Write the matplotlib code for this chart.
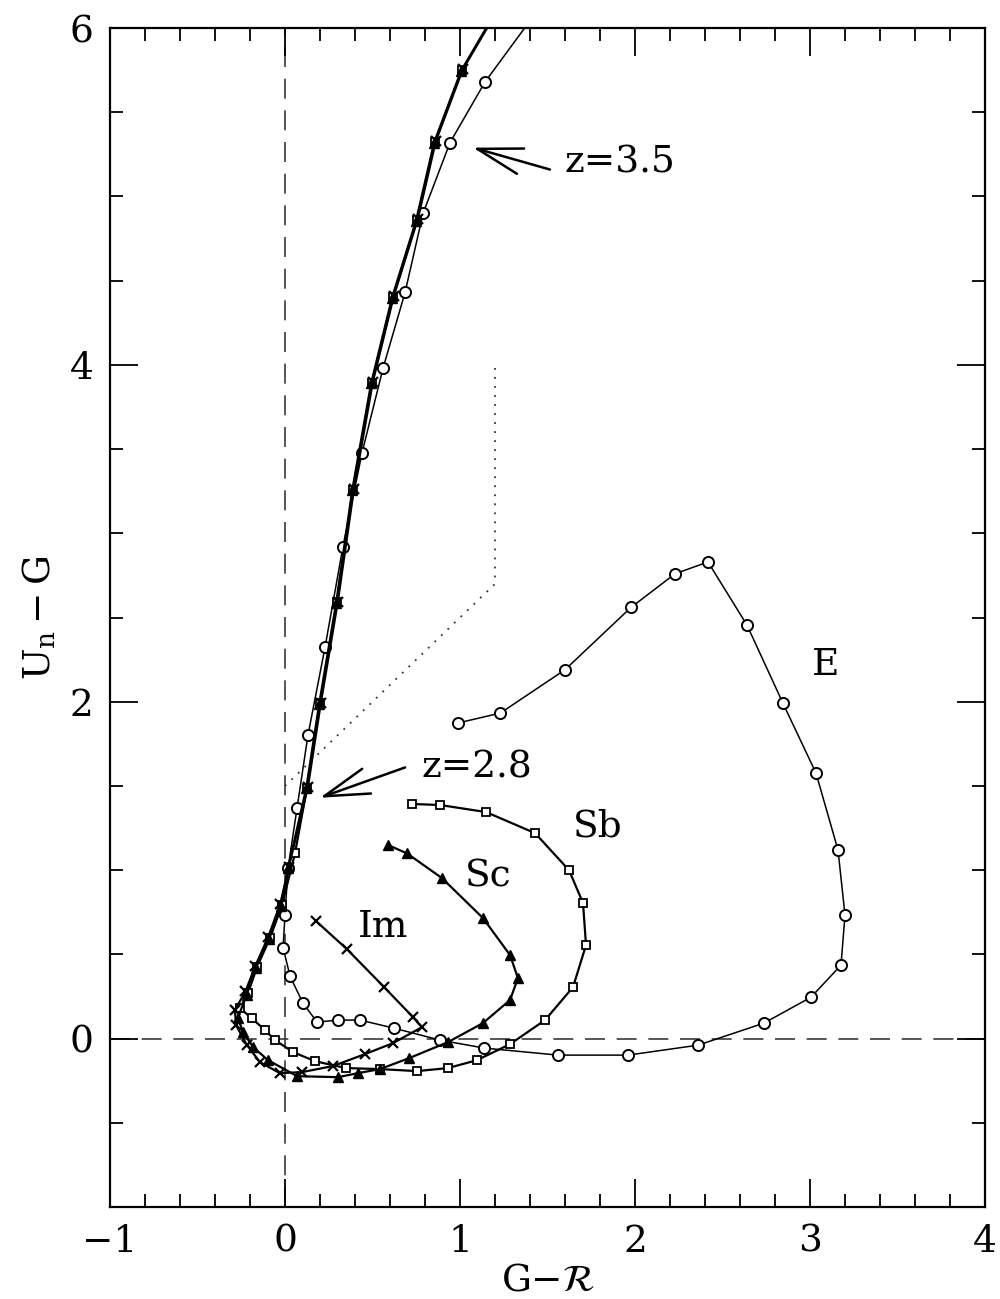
import matplotlib
matplotlib.use("Agg")
import matplotlib.pyplot as plt
from matplotlib.ticker import MultipleLocator

plt.rcParams['font.family'] = ['DejaVu Serif']
plt.rcParams['mathtext.fontset'] = 'dejavuserif'

# colour tracks with redshift, z = 0 end first
E_x = [0.989, 1.231, 1.60, 1.977, 2.229, 2.417, 2.64, 2.846, 3.034, 3.16, 3.20, 3.177,
       3.006, 2.737, 2.36, 1.96, 1.56, 1.137, 0.886, 0.623, 0.429, 0.303, 0.183, 0.103,
       0.029, -0.011, 0.0, 0.017, 0.069, 0.131, 0.229, 0.331, 0.44, 0.56, 0.686, 0.789,
       0.943, 1.143, 1.44]
E_y = [1.874, 1.933, 2.19, 2.56, 2.76, 2.83, 2.455, 1.99, 1.577, 1.12, 0.733, 0.436,
       0.246, 0.092, -0.039, -0.098, -0.098, -0.056, -0.009, 0.062, 0.11, 0.11, 0.098, 0.21,
       0.37, 0.54, 0.733, 1.01, 1.37, 1.80, 2.325, 2.92, 3.477, 3.98, 4.43, 4.90,
       5.32, 5.68, 6.10]

Sb_x = [0.726, 0.886, 1.149, 1.429, 1.623, 1.703, 1.72, 1.646, 1.486, 1.286, 1.097, 0.931,
        0.754, 0.543, 0.349, 0.171, 0.046, -0.057, -0.114, -0.189, -0.257, -0.211, -0.16,
        -0.086, -0.017, 0.057, 0.126, 0.20, 0.297, 0.389, 0.497, 0.617, 0.754, 0.857,
        1.011, 1.22]
Sb_y = [1.393, 1.387, 1.345, 1.22, 1.0, 0.805, 0.555, 0.306, 0.11, -0.033, -0.128, -0.175,
        -0.193, -0.181, -0.175, -0.134, -0.08, -0.009, 0.05, 0.12, 0.18, 0.27, 0.425,
        0.597, 0.793, 1.10, 1.49, 1.99, 2.59, 3.26, 3.895, 4.405, 4.862, 5.325,
        5.75, 6.12]

Sc_x = [0.589, 0.697, 0.897, 1.131, 1.286, 1.331, 1.286, 1.131, 0.931, 0.709, 0.543, 0.417,
        0.303, 0.069, -0.097, -0.183, -0.24, -0.269, -0.22, -0.166, -0.092, -0.022, 0.017,
        0.121, 0.195, 0.292, 0.384, 0.492, 0.612, 0.749, 0.852, 1.006, 1.215]
Sc_y = [1.149, 1.10, 0.953, 0.716, 0.496, 0.359, 0.229, 0.092, -0.021, -0.116, -0.181, -0.205,
        -0.229, -0.223, -0.128, -0.05, 0.039, 0.122, 0.26, 0.42, 0.59, 0.787, 1.01,
        1.485, 1.985, 2.585, 3.255, 3.89, 4.40, 4.857, 5.32, 5.745, 6.115]

Im_x = [0.177, 0.354, 0.566, 0.731, 0.783, 0.617, 0.457, 0.274, 0.097, -0.029, -0.143, -0.217,
        -0.28, -0.286, -0.226, -0.17, -0.096, -0.027, 0.022, 0.131, 0.205, 0.302, 0.394,
        0.502, 0.622, 0.759, 0.862, 1.016, 1.225]
Im_y = [0.698, 0.531, 0.306, 0.128, 0.068, -0.027, -0.092, -0.163, -0.199, -0.205, -0.14, -0.039,
        0.08, 0.17, 0.28, 0.43, 0.603, 0.80, 1.02, 1.495, 1.995, 2.595, 3.265, 3.90,
        4.41, 4.867, 5.33, 5.755, 6.125]

# colour selection window boundary
sel_x = [0.0, 1.2, 1.2]
sel_y = [1.5, 2.7, 4.0]

track_labels = [("E", 3.09, 2.22), ("Sb", 1.79, 1.26), ("Sc", 1.16, 0.96), ("Im", 0.56, 0.66)]
arrows = [("z=3.5", 1.074, 5.29, 1.514, 5.16, 1.60, 5.20),
          ("z=2.8", 0.20, 1.43, 0.686, 1.61, 0.78, 1.61)]

fig = plt.figure(figsize=(10, 12.99), dpi=100)
ax = fig.add_axes([0.110, 0.0708, 0.875, 0.9076])

ax.axhline(0, color='#3a3a3a', lw=1.2, ls=(0, (12, 7)), zorder=1)
ax.axvline(0, color='#3a3a3a', lw=1.2, ls=(0, (12, 7)), zorder=1)
ax.plot(sel_x, sel_y, color='#333333', lw=1.3, ls=(0, (1, 4)), zorder=1)

ax.plot(E_x, E_y, color='black', lw=1.1, marker='o', ms=8, mfc='white', mec='black', mew=1.4, zorder=3)
ax.plot(Sb_x, Sb_y, color='black', lw=1.6, marker='s', ms=6, mfc='white', mec='black', mew=1.3, zorder=4)
ax.plot(Sc_x, Sc_y, color='black', lw=1.6, marker='^', ms=7, mfc='black', mec='black', zorder=4)
ax.plot(Im_x, Im_y, color='black', lw=1.6, marker='x', ms=7, mew=1.6, zorder=4)

for name, tx, ty in track_labels:
    ax.text(tx, ty, name, fontsize=27, ha='center', va='center')

for name, hx, hy, tx, ty, lx, ly in arrows:
    ax.annotate('', xy=(hx, hy), xytext=(tx, ty),
                arrowprops=dict(arrowstyle='->, head_length=1.2, head_width=0.35',
                                lw=1.8, color='black', shrinkA=0, shrinkB=0),
                fontsize=27)
    ax.text(lx, ly, name, fontsize=27, ha='left', va='center')

ax.set_xlim(-1, 4)
ax.set_ylim(-1, 6)
ax.xaxis.set_major_locator(MultipleLocator(1))
ax.xaxis.set_minor_locator(MultipleLocator(0.2))
ax.yaxis.set_major_locator(MultipleLocator(2))
ax.yaxis.set_minor_locator(MultipleLocator(0.5))
ax.tick_params(which='both', direction='in', top=True, right=True, labelsize=27, pad=12, width=1.3)
ax.tick_params(which='major', length=20)
ax.tick_params(which='minor', length=9.5)
for sp in ax.spines.values():
    sp.set_linewidth(1.6)

ax.set_xlabel(r'G$-\mathcal{R}$', fontsize=27, labelpad=2)
ax.set_ylabel(r'U$_{\rm n}-$G', fontsize=27, labelpad=8)

fig.savefig('out.png', dpi=100)
